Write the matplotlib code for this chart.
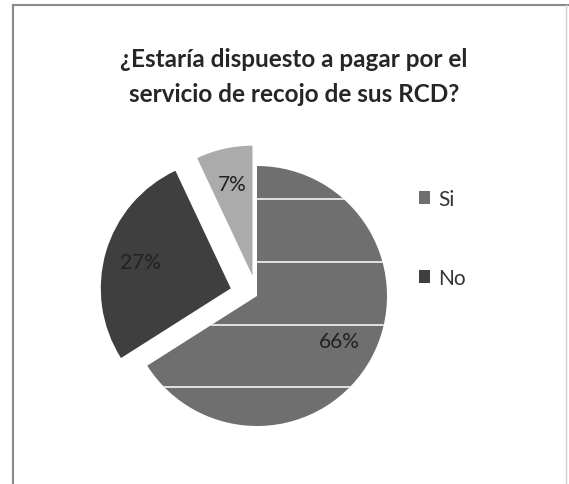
import matplotlib.pyplot as plt
from matplotlib.lines import Line2D
import numpy as np

# pie data, clockwise from the top
labels = ['Si', 'No', '']
values = [66, 27, 7]
colors = ['#6f6f6f', '#3f3f3f', '#ababab']
explode = [0, 0.21, 0.16]
legend_labels = ['Si', 'No']

title = '¿Estaría dispuesto a pagar por el\nservicio de recojo de sus RCD?'

W, H = 569, 485
fig = plt.figure(figsize=(W / 100, H / 100), dpi=100)
fig.patch.set_facecolor('white')

# pie axes: centre at (257, 297) px, radius 130 px
r_px = 130
cx, cy = 257, 297
half = 1.4 * r_px
ax = fig.add_axes([(cx - half) / W, (H - cy - half) / H, 2 * half / W, 2 * half / H])

wedges, texts, autotexts = ax.pie(
    values, colors=colors, explode=explode, startangle=90, counterclock=False,
    autopct='%1.0f%%', pctdistance=0.72,
    textprops=dict(fontsize=15, color='#222222', family='Lato'),
    wedgeprops=dict(linewidth=0))
ax.set_xlim(-1.4, 1.4)
ax.set_ylim(-1.4, 1.4)
ax.set_aspect('equal')
ax.axis('off')

# white horizontal stripes on the "Si" slice
for yy in [0.75, 0.26, -0.22, -0.70]:
    ln, = ax.plot([-1.2, 1.2], [yy, yy], color='white', lw=1.4, alpha=0.8, zorder=3)
    ln.set_clip_path(wedges[0])

# title
fig.text(294 / W, 1 - 77 / H, title, ha='center', va='center', fontsize=17.5,
         family='Lato', weight='bold', color='#262626', linespacing=1.65)

# legend
leg = fig.legend(wedges[:2], legend_labels, loc='upper left',
                 bbox_to_anchor=(400 / W, 1 - 171 / H), frameon=False,
                 prop=dict(family='Lato', size=15), labelcolor='#333333',
                 handlelength=0.55, handleheight=0.55, handletextpad=0.4,
                 labelspacing=2.85)

# frame of the scanned chart area
fig.add_artist(Line2D([13 / W, 13 / W], [0, 1 - 6 / H], color='#8a8a8a', lw=1.5))
fig.add_artist(Line2D([13 / W, 1], [1 - 6 / H, 1 - 6 / H], color='#8a8a8a', lw=1.5))
fig.add_artist(Line2D([566 / W, 566 / W], [0, 1 - 6 / H], color='#d0d0d0', lw=1))

fig.savefig('out.png', dpi=100, facecolor='white')
